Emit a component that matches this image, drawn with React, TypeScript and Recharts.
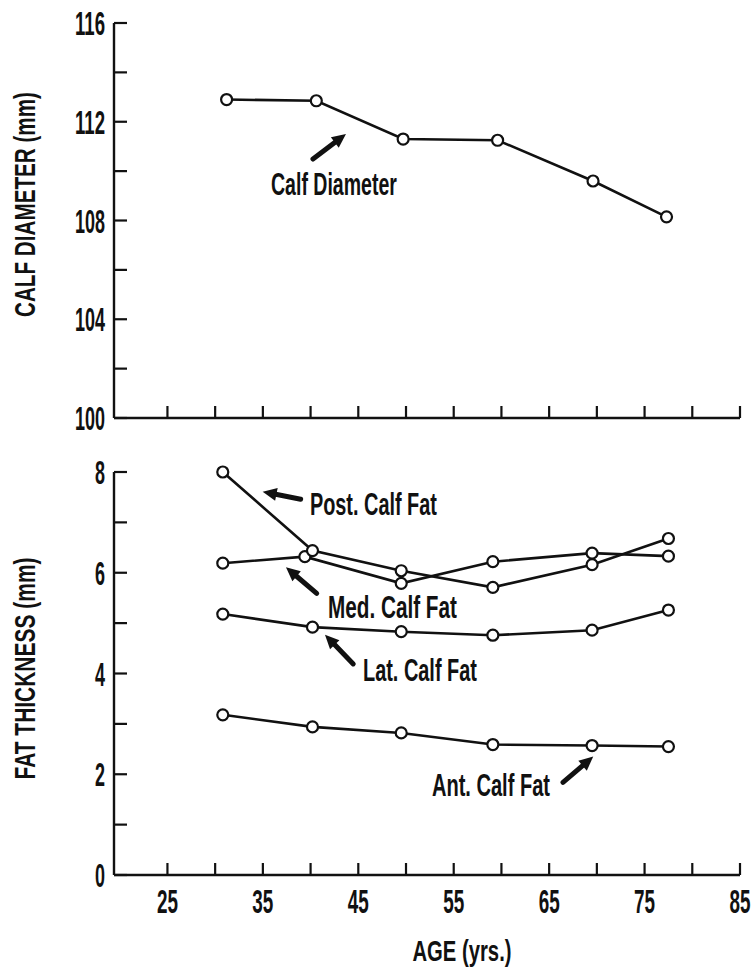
import { LineChart, Line, XAxis, YAxis, ReferenceLine, ReferenceDot, Label } from 'recharts';

// ages (yrs) of each age group, and the tick grids
const ageTicks = [25, 30, 35, 40, 45, 50, 55, 60, 65, 70, 75, 80, 85];
const ageLabels = [25, 35, 45, 55, 65, 75, 85];
const diameterTicks = [100, 102, 104, 106, 108, 110, 112, 114, 116];
const diameterLabels = [100, 104, 108, 112, 116];
const fatTicks = [0, 1, 2, 3, 4, 5, 6, 7, 8];
const fatLabels = [0, 2, 4, 6, 8];

// calf diameter (mm)
const calfAges = [31.2, 40.6, 49.7, 59.6, 69.6, 77.3];
const calfDiameter = [112.9, 112.85, 111.3, 111.25, 109.6, 108.15];

// skinfold thickness (mm)
const fatAges = [30.8, 40.2, 49.5, 59.1, 69.5, 77.5];
const medAges = [30.8, 39.4, 49.5, 59.1, 69.5, 77.5];
const postFat = [8.0, 6.44, 6.04, 5.71, 6.16, 6.68];
const medFat = [6.19, 6.32, 5.79, 6.22, 6.39, 6.33];
const latFat = [5.18, 4.92, 4.83, 4.76, 4.86, 5.26];
const antFat = [3.18, 2.94, 2.82, 2.59, 2.57, 2.55];

const FONT = '"Liberation Sans", Arial, sans-serif';
const INK = '#111';

const rows = (ages: number[], vals: number[]) => ages.map((age, i) => ({ age, value: vals[i] }));

const calfData = rows(calfAges, calfDiameter);
const postData = rows(fatAges, postFat);
const medData = rows(medAges, medFat);
const latData = rows(fatAges, latFat);
const antData = rows(fatAges, antFat);

// condensed lettering: glyphs squeezed to a given run length
function CondText({ x, y, text, len, size = 32, anchor = 'start', rotate = false }: any) {
  return (
    <text
      x={x}
      y={y}
      fontFamily={FONT}
      fontWeight="bold"
      fontSize={size}
      fill={INK}
      textAnchor={anchor}
      textLength={len}
      lengthAdjust="spacingAndGlyphs"
      transform={rotate ? `rotate(-90 ${x} ${y})` : undefined}
    >
      {text}
    </text>
  );
}

function XTick({ x, y, payload, labelled }: any) {
  const v = payload.value;
  return (
    <g>
      <line x1={x} y1={y} x2={x} y2={y - 12} stroke={INK} strokeWidth={2.2} />
      {labelled && ageLabels.includes(v) && (
        <CondText x={x} y={y + 38} text={String(v)} len={String(v).length * 10.5} size={34} anchor="middle" />
      )}
    </g>
  );
}

function YTick({ x, y, payload, labels }: any) {
  const v = payload.value;
  return (
    <g>
      <line x1={x} y1={y} x2={x + 13} y2={y} stroke={INK} strokeWidth={2.2} />
      {labels.includes(v) && (
        <CondText x={x - 9} y={y + 12} text={String(v)} len={String(v).length * 10} size={34} anchor="end" />
      )}
    </g>
  );
}

function Arrow({ x1, y1, x2, y2 }: any) {
  const dx = x2 - x1;
  const dy = y2 - y1;
  const d = Math.hypot(dx, dy) || 1;
  const ux = dx / d;
  const uy = dy / d;
  const head = 14;
  const half = 6.5;
  const bx = x2 - ux * head;
  const by = y2 - uy * head;
  return (
    <g>
      <line x1={x1} y1={y1} x2={bx + ux * 2} y2={by + uy * 2} stroke={INK} strokeWidth={5} strokeLinecap="round" />
      <polygon
        points={`${x2},${y2} ${bx - uy * half},${by + ux * half} ${bx + uy * half},${by - ux * half}`}
        fill={INK}
      />
    </g>
  );
}

type Callout = { text: string; at: [number, number]; len: number; tail: [number, number]; tip: [number, number] };

const calfCallouts: Callout[] = [
  { text: 'Calf Diameter', at: [35.85, 109.03], len: 126, tail: [40.25, 110.49], tip: [43.71, 111.5] },
];

const fatCallouts: Callout[] = [
  { text: 'Post. Calf Fat', at: [39.93, 7.15], len: 127, tail: [38.96, 7.46], tip: [34.98, 7.61] },
  { text: 'Med. Calf Fat', at: [41.82, 5.1], len: 129, tail: [40.64, 5.59], tip: [37.42, 6.11] },
  { text: 'Lat. Calf Fat', at: [45.49, 3.85], len: 114, tail: [44.47, 4.19], tip: [41.51, 4.77] },
  { text: 'Ant. Calf Fat', at: [52.72, 1.57], len: 118, tail: [66.45, 1.84], tip: [69.62, 2.35] },
];

const renderCallouts = (list: Callout[]) =>
  list.flatMap((c) => [
    <ReferenceLine
      key={c.text + '-arrow'}
      segment={[
        { x: c.tail[0], y: c.tail[1] },
        { x: c.tip[0], y: c.tip[1] },
      ]}
      ifOverflow="visible"
      shape={(p: any) => <Arrow {...p} />}
    />,
    <ReferenceDot
      key={c.text + '-label'}
      x={c.at[0]}
      y={c.at[1]}
      r={1}
      ifOverflow="visible"
      shape={(p: any) => <CondText x={p.cx} y={p.cy} text={c.text} len={c.len} />}
    />,
  ]);

const dot = { r: 5.5, stroke: INK, strokeWidth: 2.2, fill: '#fff' };
const series = { type: 'linear' as const, dataKey: 'value', stroke: INK, strokeWidth: 2.6, dot, activeDot: false, isAnimationActive: false };

const axisLine = { stroke: INK, strokeWidth: 2.4 };
const ageDomain: [number, number] = [19.4, 85];

export default function App() {
  return (
    <div style={{ position: 'absolute', left: 0, top: 0, width: 751, height: 969, background: '#fff' }}>
      <div style={{ position: 'absolute', left: 0, top: 0 }}>
        <LineChart width={751} height={440} margin={{ top: 23, right: 11, bottom: 0, left: 0 }}>
          <XAxis
            type="number"
            dataKey="age"
            domain={ageDomain}
            ticks={ageTicks}
            interval={0}
            height={22}
            tickSize={0}
            tickMargin={0}
            tickLine={false}
            axisLine={axisLine}
            tick={<XTick labelled={false} />}
          />
          <YAxis
            type="number"
            domain={[100, 116]}
            ticks={diameterTicks}
            interval={0}
            width={114}
            tickSize={0}
            tickMargin={0}
            tickLine={false}
            axisLine={axisLine}
            tick={<YTick labels={diameterLabels} />}
          >
            <Label
              content={({ viewBox }: any) => (
                <CondText
                  x={35}
                  y={viewBox.y + viewBox.height / 2 - 16}
                  text="CALF DIAMETER (mm)"
                  len={225}
                  size={30}
                  anchor="middle"
                  rotate
                />
              )}
            />
          </YAxis>
          <Line {...series} data={calfData} />
          {renderCallouts(calfCallouts)}
        </LineChart>
      </div>
      <div style={{ position: 'absolute', left: 0, top: 440 }}>
        <LineChart width={751} height={529} margin={{ top: 32, right: 11, bottom: 0, left: 0 }}>
          <XAxis
            type="number"
            dataKey="age"
            domain={ageDomain}
            ticks={ageTicks}
            interval={0}
            height={94}
            tickSize={0}
            tickMargin={0}
            tickLine={false}
            axisLine={axisLine}
            tick={<XTick labelled />}
          >
            <Label
              content={({ viewBox }: any) => (
                <CondText
                  x={viewBox.x + viewBox.width / 2 + 35}
                  y={viewBox.y + 86}
                  text="AGE (yrs.)"
                  len={99}
                  size={30}
                  anchor="middle"
                />
              )}
            />
          </XAxis>
          <YAxis
            type="number"
            domain={[0, 8]}
            ticks={fatTicks}
            interval={0}
            width={114}
            tickSize={0}
            tickMargin={0}
            tickLine={false}
            axisLine={axisLine}
            tick={<YTick labels={fatLabels} />}
          >
            <Label
              content={({ viewBox }: any) => (
                <CondText
                  x={35}
                  y={viewBox.y + viewBox.height / 2 - 5}
                  text="FAT THICKNESS (mm)"
                  len={222}
                  size={30}
                  anchor="middle"
                  rotate
                />
              )}
            />
          </YAxis>
          <Line {...series} data={antData} />
          <Line {...series} data={latData} />
          <Line {...series} data={medData} />
          <Line {...series} data={postData} />
          {renderCallouts(fatCallouts)}
        </LineChart>
      </div>
    </div>
  );
}
